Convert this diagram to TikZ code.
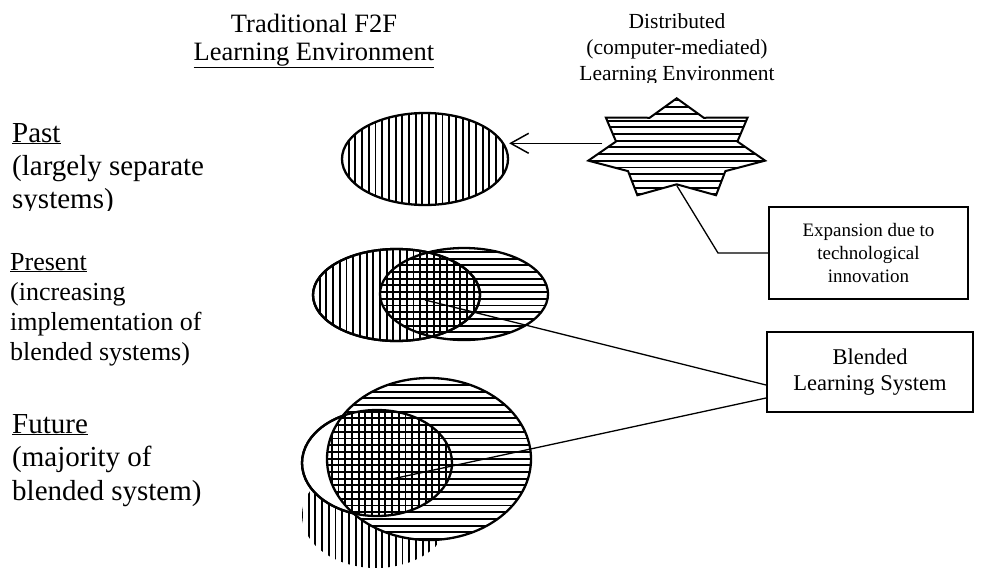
\documentclass[tikz,border=0pt]{standalone}
\usepackage{fontspec}
\setmainfont{Liberation Serif}
\usetikzlibrary{shapes.geometric,arrows.meta}

\tikzset{
  hatch/.style={line width=1.9pt},
  vhatch/.style={path picture={
      \foreach \k in {0,...,34}
        \draw[hatch] ([xshift=\k*6.7pt]path picture bounding box.south west)
          -- ([xshift=\k*6.7pt]path picture bounding box.north west);}},
  hhatch/.style={path picture={
      \foreach \k in {0,...,28}
        \draw[hatch] ([yshift=\k*6.7pt+1pt]path picture bounding box.south west)
          -- ([yshift=\k*6.7pt+1pt]path picture bounding box.south east);}},
  env/.style={ellipse,draw,line width=2.3pt,inner sep=0pt},
  infobox/.style={rectangle,draw,line width=2pt,align=center,inner sep=0pt},
  lead/.style={line width=1.3pt},
  sidetext/.style={anchor=base west,align=left,inner sep=0pt},
}

\begin{document}
\begin{tikzpicture}[x=1pt,y=-1pt]
        \useasboundingbox (0,0) rectangle (981,571);
        % column headings
        \node[anchor=base,align=center,inner sep=0pt,font=\fontsize{26.5}{28}\selectfont] (trad) at (314,60)
          {Traditional F2F\\ \underline{Learning Environment}};
        \begin{scope}
          \clip (540,0) rectangle (820,82);
          \node[anchor=base,align=center,inner sep=0pt,font=\fontsize{21.5}{26}\selectfont] (distr) at (677,80)
            {Distributed\\(computer-mediated)\\Learning Environment};
        \end{scope}
        % row labels
        \begin{scope}
          \clip (0,100) rectangle (300,210);
          \node[sidetext,font=\fontsize{29}{33}\selectfont] (past-lbl) at (12,208)
            {\underline{Past}\\(largely separate\\systems)};
        \end{scope}
        \node[sidetext,font=\fontsize{26}{30}\selectfont] (present-lbl) at (10,360)
          {\underline{Present}\\(increasing\\implementation of\\blended systems)};
        \node[sidetext,font=\fontsize{29}{33.5}\selectfont] (future-lbl) at (12,500)
          {\underline{Future}\\(majority of\\blended system)};
        % past
        \node[env,vhatch,minimum width=166pt,minimum height=92pt] (past) at (425,159) {};
        \node[star,star points=7,star point ratio=1.457,minimum size=102pt,inner sep=0pt,draw,line width=2pt,hhatch,xscale=1.778] (dist) at (676.7,149.3) {};
        \coordinate (arrowstart) at ([yshift=6pt]dist.west);
        \draw[line width=1.5pt,-{Straight Barb[length=18pt,width=20pt]}] (arrowstart) -- (arrowstart -| past.east);
        % present
        \node[env,vhatch,minimum width=167pt,minimum height=92pt] (pleft) at (396.5,295) {};
        \node[env,hhatch,minimum width=168pt,minimum height=92pt] (pright) at (464,294) {};
        \draw[line width=2.3pt] (pleft.center) ellipse [x radius=83.5, y radius=46];
        \coordinate (pmid) at (425,300);
        % future
        \node[ellipse,inner sep=0pt,vhatch,minimum width=148pt,minimum height=106pt] (fshadow) at (376,515) {};
        \node[env,fill=white,minimum width=150pt,minimum height=106pt] (fsmall) at (377,463) {};
        \node[env,fill=white,hhatch,minimum width=204pt,minimum height=162pt] (fbig) at (429,459) {};
        \begin{scope}
          \clip (fsmall.center) ellipse [x radius=75, y radius=53];
          \clip (fbig.center) ellipse [x radius=102, y radius=81];
          \foreach \k in {0,...,24}
            \draw[hatch] (305+\k*6.7,405) -- (305+\k*6.7,520);
        \end{scope}
        \draw[line width=2.3pt] (fsmall.center) ellipse [x radius=75, y radius=53];
        \coordinate (fmid) at (392,479);
        % boxes
        \node[infobox,minimum width=199pt,minimum height=92pt,font=\fontsize{19}{23}\selectfont] (expand) at (868.5,253)
          {Expansion due to\\technological\\innovation};
        \node[infobox,minimum width=206pt,minimum height=80pt,font=\fontsize{22.5}{26}\selectfont] (blend) at (870,372)
          {Blended\\Learning System};
        \coordinate (bend) at (718,253);
        \draw[lead] (dist.inner point 4) -- (bend) -- (expand.west);
        \draw[lead] (pmid) -- ([yshift=-13pt]blend.west);
        \draw[lead] (fmid) -- ([yshift=-26pt]blend.west);
\end{tikzpicture}
\end{document}
